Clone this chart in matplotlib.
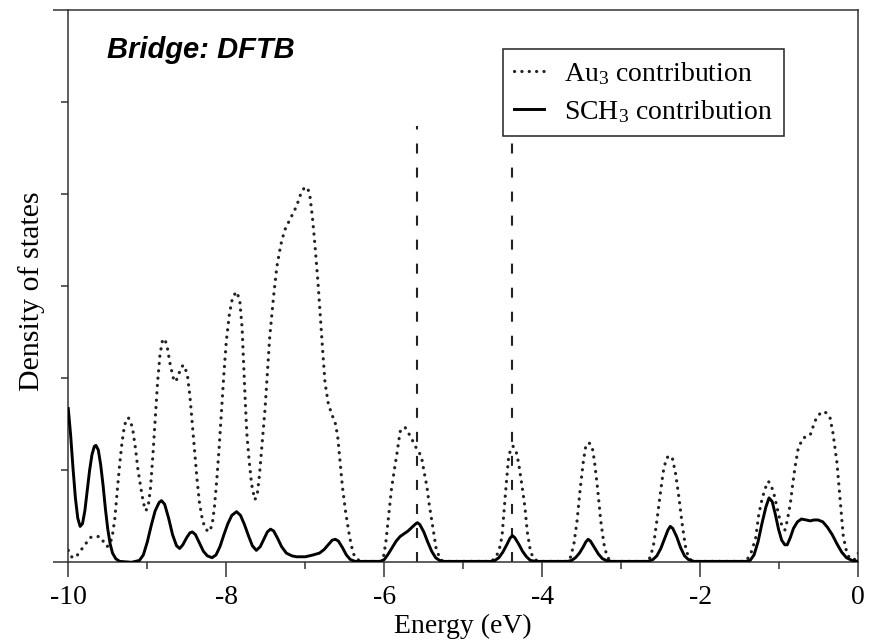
import matplotlib
matplotlib.use("Agg")
import matplotlib.pyplot as plt
from matplotlib.ticker import FixedLocator, NullFormatter

plt.rcParams["font.family"] = ["Liberation Serif", "DejaVu Serif"]
plt.rcParams["mathtext.fontset"] = "custom"
plt.rcParams["mathtext.rm"] = "Liberation Serif"
plt.rcParams["mathtext.it"] = "Liberation Serif:italic"
plt.rcParams["lines.scale_dashes"] = False

# Projected density of states, bridge site (DFTB)
energy_sch3 = [
    -10.00, -9.97, -9.94, -9.91, -9.88, -9.85, -9.82, -9.79, -9.76, -9.73,
    -9.70, -9.67, -9.65, -9.62, -9.59, -9.56, -9.53, -9.50, -9.47, -9.44,
    -9.40, -9.35, -9.20, -9.10, -9.05, -9.00, -8.95, -8.90, -8.85, -8.82,
    -8.78, -8.73, -8.68, -8.63, -8.59, -8.55, -8.50, -8.46, -8.43, -8.39,
    -8.34, -8.29, -8.24, -8.18, -8.13, -8.08, -8.03, -7.98, -7.93, -7.87,
    -7.82, -7.77, -7.72, -7.67, -7.62, -7.57, -7.52, -7.48, -7.44, -7.40,
    -7.35, -7.30, -7.24, -7.17, -7.11, -7.00, -6.90, -6.82, -6.76, -6.70,
    -6.66, -6.62, -6.58, -6.53, -6.48, -6.43, -6.37, -6.05, -6.00, -5.95,
    -5.90, -5.85, -5.80, -5.75, -5.70, -5.65, -5.60, -5.58, -5.55, -5.50,
    -5.45, -5.40, -5.35, -5.30, -5.25,
    -4.65, -4.60, -4.55, -4.50, -4.45, -4.41, -4.38, -4.35, -4.30, -4.25,
    -4.20, -4.15, -4.08,
    -3.68, -3.63, -3.58, -3.53, -3.48, -3.45, -3.42, -3.39, -3.34, -3.29,
    -3.24, -3.19, -3.12,
    -2.66, -2.60, -2.55, -2.50, -2.45, -2.41, -2.38, -2.35, -2.30, -2.25,
    -2.20, -2.15, -2.08,
    -1.42, -1.37, -1.32, -1.27, -1.22, -1.17, -1.13, -1.09, -1.05, -1.01,
    -0.97, -0.93, -0.90, -0.86, -0.82, -0.77, -0.72, -0.66, -0.61, -0.56,
    -0.51, -0.45, -0.39, -0.33, -0.27, -0.21, -0.15, -0.08, 0.00,
]
dos_sch3 = [
    1.67, 1.38, 1.02, 0.70, 0.48, 0.39, 0.42, 0.56, 0.78, 1.00,
    1.17, 1.26, 1.27, 1.22, 1.06, 0.84, 0.58, 0.36, 0.20, 0.10,
    0.04, 0.01, 0.00, 0.02, 0.08, 0.22, 0.40, 0.56, 0.65, 0.67,
    0.63, 0.48, 0.30, 0.18, 0.15, 0.19, 0.27, 0.32, 0.33, 0.30,
    0.21, 0.12, 0.07, 0.05, 0.08, 0.17, 0.30, 0.42, 0.51, 0.55,
    0.51, 0.41, 0.29, 0.18, 0.13, 0.17, 0.26, 0.33, 0.36, 0.34,
    0.26, 0.17, 0.10, 0.07, 0.06, 0.06, 0.08, 0.10, 0.14, 0.20,
    0.24, 0.25, 0.23, 0.16, 0.08, 0.03, 0.01, 0.01, 0.03, 0.09,
    0.16, 0.23, 0.28, 0.31, 0.34, 0.38, 0.42, 0.43, 0.41, 0.33,
    0.22, 0.12, 0.05, 0.02, 0.01,
    0.01, 0.02, 0.05, 0.11, 0.19, 0.26, 0.29, 0.27, 0.20, 0.12,
    0.06, 0.02, 0.01,
    0.01, 0.02, 0.05, 0.10, 0.17, 0.22, 0.25, 0.23, 0.16, 0.09,
    0.04, 0.02, 0.01,
    0.01, 0.03, 0.07, 0.15, 0.26, 0.35, 0.39, 0.37, 0.28, 0.16,
    0.07, 0.03, 0.01,
    0.01, 0.02, 0.08, 0.22, 0.42, 0.60, 0.70, 0.66, 0.52, 0.36,
    0.24, 0.19, 0.19, 0.27, 0.37, 0.44, 0.47, 0.46, 0.45, 0.46,
    0.46, 0.44, 0.38, 0.30, 0.20, 0.11, 0.05, 0.02, 0.01,
]

energy_au3 = [
    -10.00, -9.95, -9.90, -9.85, -9.78, -9.72, -9.66, -9.60, -9.55, -9.51,
    -9.47, -9.44, -9.41, -9.38, -9.35, -9.32, -9.29, -9.26, -9.24, -9.21,
    -9.18, -9.15, -9.12, -9.08, -9.05, -9.02, -8.99, -8.96, -8.93, -8.90,
    -8.87, -8.84, -8.81, -8.78, -8.75, -8.71, -8.67, -8.64, -8.60, -8.56,
    -8.53, -8.49, -8.46, -8.43, -8.40, -8.37, -8.34, -8.30, -8.26, -8.22,
    -8.18, -8.15, -8.12, -8.09, -8.06, -8.03, -8.00, -7.96, -7.92, -7.87,
    -7.83, -7.80, -7.78, -7.76, -7.74, -7.71, -7.68, -7.64, -7.61, -7.58,
    -7.55, -7.51, -7.48, -7.45, -7.40, -7.36, -7.31, -7.26, -7.18, -7.11,
    -7.05, -7.01, -6.97, -6.94, -6.91, -6.88, -6.84, -6.81, -6.78, -6.75,
    -6.71, -6.67, -6.62, -6.59, -6.56, -6.53, -6.49, -6.44, -6.40, -6.37,
    -6.30, -6.05, -6.01, -5.98, -5.95, -5.91, -5.87, -5.84, -5.80, -5.74,
    -5.67, -5.60, -5.53, -5.50, -5.46, -5.43, -5.40, -5.34, -5.28, -5.20,
    -4.65, -4.60, -4.55, -4.51, -4.47, -4.43, -4.40, -4.37, -4.33, -4.30,
    -4.26, -4.22, -4.19, -4.15, -4.11, -4.05,
    -3.68, -3.64, -3.60, -3.56, -3.52, -3.48, -3.45, -3.41, -3.37, -3.34,
    -3.30, -3.26, -3.22, -3.18, -3.13,
    -2.67, -2.63, -2.59, -2.55, -2.51, -2.47, -2.43, -2.39, -2.35, -2.31,
    -2.27, -2.23, -2.19, -2.15, -2.10,
    -1.45, -1.40, -1.35, -1.30, -1.26, -1.22, -1.18, -1.14, -1.11, -1.07,
    -1.03, -0.99, -0.95, -0.93, -0.90, -0.86, -0.83, -0.80, -0.76, -0.70,
    -0.61, -0.57, -0.53, -0.48, -0.44, -0.40, -0.36, -0.32, -0.27, -0.23,
    -0.19, -0.15, -0.11, -0.05, 0.00,
]
dos_au3 = [
    0.13, 0.05, 0.06, 0.12, 0.20, 0.27, 0.28, 0.28, 0.22, 0.17,
    0.20, 0.30, 0.48, 0.78, 1.06, 1.30, 1.48, 1.56, 1.57, 1.53,
    1.42, 1.24, 1.02, 0.80, 0.65, 0.56, 0.60, 0.80, 1.15, 1.55,
    1.95, 2.25, 2.40, 2.43, 2.35, 2.15, 2.00, 1.96, 2.05, 2.13,
    2.14, 2.02, 1.80, 1.50, 1.20, 0.90, 0.65, 0.45, 0.36, 0.33,
    0.40, 0.60, 0.90, 1.25, 1.65, 2.05, 2.40, 2.70, 2.88, 2.94,
    2.85, 2.55, 2.15, 1.75, 1.40, 1.10, 0.85, 0.68, 0.72, 0.95,
    1.25, 1.66, 2.05, 2.45, 2.90, 3.21, 3.45, 3.61, 3.75, 3.87,
    4.02, 4.07, 4.07, 3.97, 3.75, 3.47, 3.05, 2.67, 2.30, 1.95,
    1.73, 1.62, 1.51, 1.37, 1.10, 0.82, 0.55, 0.28, 0.12, 0.05,
    0.01, 0.01, 0.06, 0.22, 0.46, 0.79, 1.02, 1.18, 1.42, 1.47,
    1.37, 1.25, 1.15, 1.00, 0.82, 0.62, 0.46, 0.13, 0.02, 0.01,
    0.01, 0.04, 0.12, 0.28, 0.71, 1.11, 1.24, 1.26, 1.20, 1.08,
    0.85, 0.60, 0.33, 0.12, 0.04, 0.01,
    0.01, 0.06, 0.20, 0.45, 0.80, 1.10, 1.26, 1.30, 1.26, 1.10,
    0.80, 0.45, 0.20, 0.06, 0.01,
    0.01, 0.06, 0.20, 0.45, 0.72, 0.98, 1.13, 1.16, 1.12, 0.95,
    0.70, 0.42, 0.18, 0.05, 0.01,
    0.01, 0.04, 0.12, 0.26, 0.52, 0.68, 0.80, 0.88, 0.85, 0.75,
    0.60, 0.45, 0.37, 0.35, 0.45, 0.64, 0.85, 1.04, 1.24, 1.35,
    1.38, 1.48, 1.57, 1.62, 1.64, 1.62, 1.58, 1.40, 1.08, 0.68,
    0.28, 0.12, 0.04, 0.03, 0.10,
]

# Marked levels (eV) and their drawn height
marker_levels = [-5.58, -4.38]
marker_top = 4.74

labels = ["Au$_3$ contribution", "SCH$_3$ contribution"]

fig = plt.figure(figsize=(8.72, 6.4), dpi=100)
ax = fig.add_axes([0.0783, 0.1214, 0.9060, 0.8630])

ax.plot(energy_au3, dos_au3, color="#222222", lw=2.3,
        linestyle=(0, (0.1, 5.2)), dash_capstyle="round",
        label=labels[0], zorder=3)
ax.plot(energy_sch3, dos_sch3, color="black", lw=2.1,
        label=labels[1], zorder=4)
ax.vlines(marker_levels, 0, marker_top, colors="#222222", lw=1.5,
          linestyles=[(0, (7.2, 10.1))], zorder=2)

ax.set_xlim(-10, 0)
ax.set_ylim(0, 6)

ax.xaxis.set_major_locator(FixedLocator([-10, -8, -6, -4, -2, 0]))
ax.xaxis.set_minor_locator(FixedLocator([-9, -7, -5, -3, -1]))
ax.yaxis.set_major_locator(FixedLocator([0, 6]))
ax.yaxis.set_minor_locator(FixedLocator([1, 2, 3, 4, 5]))
ax.yaxis.set_major_formatter(NullFormatter())
ax.set_xticklabels(["-10", "-8", "-6", "-4", "-2", "0"])

ax.tick_params(axis="x", which="major", direction="out", length=11,
               width=1.1, labelsize=20, pad=5, color="#333333")
ax.tick_params(axis="x", which="minor", direction="out", length=5,
               width=1.1, color="#333333")
ax.tick_params(axis="y", which="major", direction="out", length=11,
               width=1.1, color="#333333")
ax.tick_params(axis="y", which="minor", direction="out", length=5,
               width=1.1, color="#333333")
ax.tick_params(top=False, right=False)
for sp in ax.spines.values():
    sp.set_linewidth(1.1)
    sp.set_color("#333333")

ax.set_xlabel("Energy (eV)", fontsize=20)
ax.xaxis.label.set_verticalalignment("baseline")
ax.xaxis.set_label_coords(0.5, -0.128)
ax.set_ylabel("Density of states", fontsize=21.5)
ax.yaxis.set_label_coords(-0.030, 0.49)

ax.text(0.049, 0.913, "Bridge: DFTB", transform=ax.transAxes,
        fontsize=21, fontweight="bold", fontstyle="italic",
        family=["Liberation Sans", "DejaVu Sans"], va="baseline", ha="left")

leg = ax.legend(loc="upper left", bbox_to_anchor=(0.550, 0.929),
                borderaxespad=0, fontsize=20, frameon=True, fancybox=False,
                edgecolor="#222222", framealpha=1, handlelength=1.1,
                handletextpad=0.7, labelspacing=0.4, borderpad=0.4)
leg.get_frame().set_linewidth(1.1)
leg.set_zorder(10)

fig.savefig("out.png", dpi=100)
